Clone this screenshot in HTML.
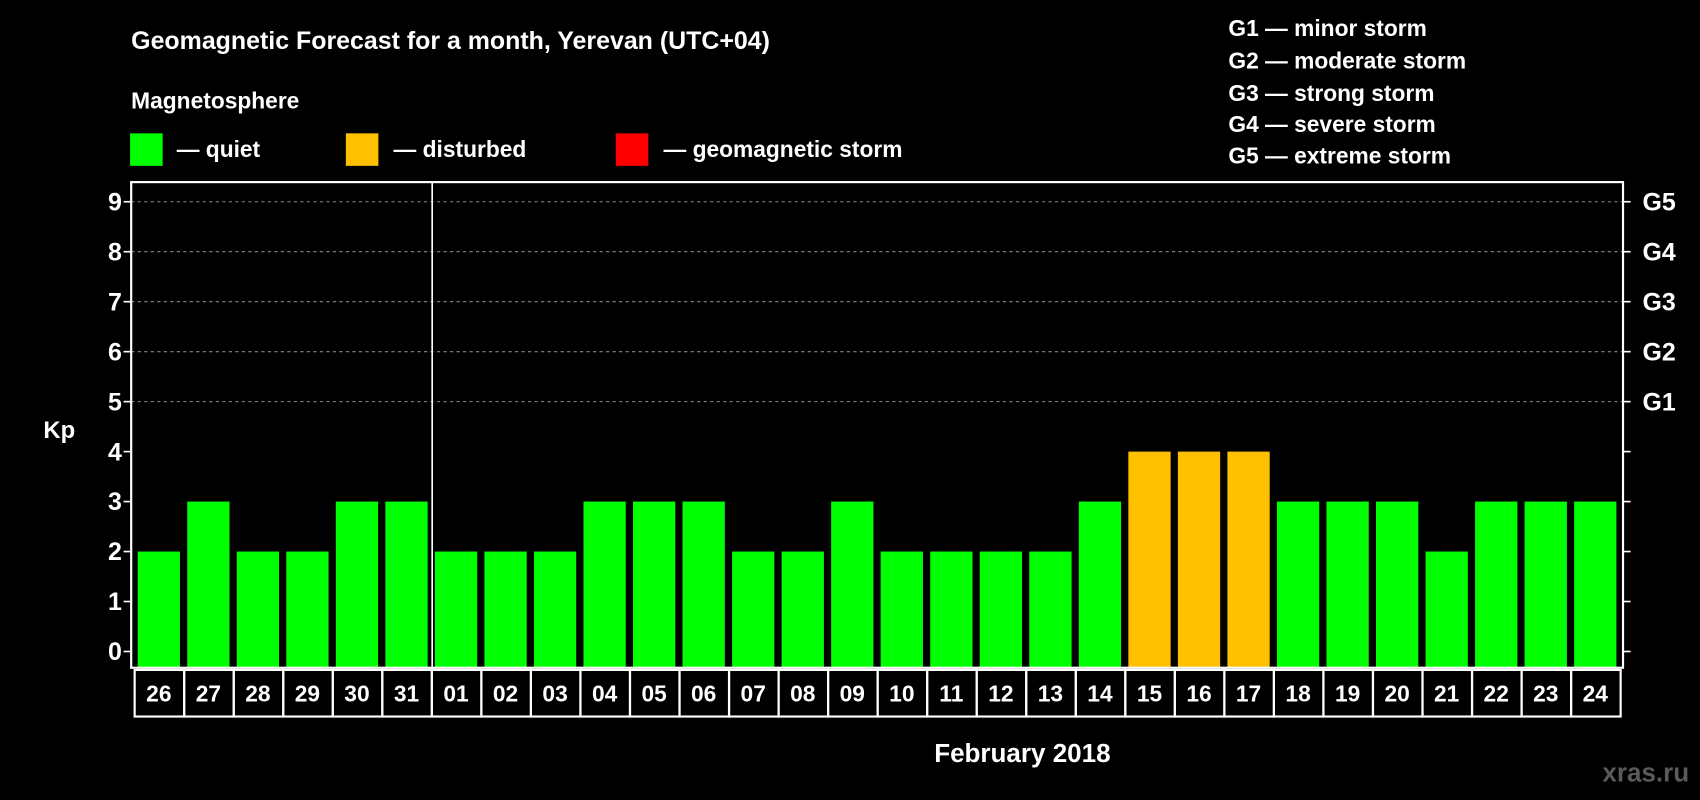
<!DOCTYPE html>
<html><head><meta charset="utf-8"><style>
html,body{margin:0;padding:0;background:#000;}
svg{display:block;}
text{font-family:"Liberation Sans",Arial,sans-serif;font-weight:bold;fill:#fff;}
</style></head><body>
<svg width="1700" height="800" viewBox="0 0 1568 738" preserveAspectRatio="none" xmlns="http://www.w3.org/2000/svg">
<rect width="1568" height="738" fill="#000"/>
<text x="121" y="45" font-size="23">Geomagnetic Forecast for a month, Yerevan (UTC+04)</text>
<text x="121" y="100" font-size="21">Magnetosphere</text>
<g><rect x="120" y="123" width="30" height="30" fill="#00ff00"/><text x="163" y="145" font-size="21">— quiet</text></g>
<g><rect x="319" y="123" width="30" height="30" fill="#ffc000"/><text x="363" y="145" font-size="21">— disturbed</text></g>
<g><rect x="568" y="123" width="30" height="30" fill="#ff0000"/><text x="612" y="145" font-size="21">— geomagnetic storm</text></g>
<g font-size="21">
<text x="1133" y="33">G1 — minor storm</text>
<text x="1133" y="63">G2 — moderate storm</text>
<text x="1133" y="93">G3 — strong storm</text>
<text x="1133" y="122">G4 — severe storm</text>
<text x="1133" y="151">G5 — extreme storm</text>
</g>
<text x="40" y="404" font-size="22">Kp</text>
<g id="plot"></g>
<text x="943" y="703" font-size="24" text-anchor="middle">February 2018</text>
<text x="1558" y="721" font-size="24" text-anchor="end" fill="#5a5a5a" style="fill:#5a5a5a">xras.ru</text>
</svg>
<script>
const days = ["26","27","28","29","30","31","01","02","03","04","05","06","07","08","09","10","11","12","13","14","15","16","17","18","19","20","21","22","23","24","25"].slice(0,30);
const kp = [2,3,2,2,3,3,2,2,2,3,3,3,2,2,3,2,2,2,2,3,4,4,4,3,3,3,2,3,3,3];
const yTicks = [0,1,2,3,4,5,6,7,8,9];
const gLabels = {5:"G1",6:"G2",7:"G3",8:"G4",9:"G5"};
const L=121,R=1497,T=168,B=616, x0=127, pitch=(1493-127+4.6)/30, bw=39;
const y = v => 601 - v*46.1;
const xb = i => x0 + i*pitch;
const NS="http://www.w3.org/2000/svg";
const g=document.getElementById('plot');
function mk(t,a){const e=document.createElementNS(NS,t);for(const k in a)e.setAttribute(k,a[k]);g.appendChild(e);return e;}
yTicks.forEach(v=>{
  if(v>=5){const gl=mk('line',{x1:L,x2:R,y1:y(v),y2:y(v),stroke:'#888','stroke-dasharray':'3,3','stroke-width':1});
    
    }
  const t1=mk('line',{x1:L-7,x2:L,y1:y(v),y2:y(v),stroke:'#fff','stroke-width':1.5});
  
  
  const t2=mk('line',{x1:R,x2:R+7,y1:y(v),y2:y(v),stroke:'#fff','stroke-width':1.5});
  
  
  const tl=mk('text',{x:106,y:y(v)+8,'font-size':23,'text-anchor':'middle'});tl.textContent=v;
  
  
  if(gLabels[v]){const gt=mk('text',{x:1515,y:y(v)+8,'font-size':23});gt.textContent=gLabels[v];
    
    }
});
kp.forEach((v,i)=>{
  const c=v>=5?'#ff0000':(v>=4?'#ffc000':'#00ff00');
  const r=mk('rect',{x:xb(i),y:y(v),width:bw,height:B-y(v),fill:c});
  
  
  const cell=mk('rect',{x:xb(i)-2.8,y:B+2,width:pitch,height:43,fill:'none',stroke:'#fff','stroke-width':2});
  
  
  const t=mk('text',{x:xb(i)+bw/2,y:B+31,'font-size':21,'text-anchor':'middle'});t.textContent=days[i];
  
  
});
const fr=mk('rect',{x:L,y:T,width:R-L,height:B-T,fill:'none',stroke:'#fff','stroke-width':2});


const ml=mk('line',{x1:xb(6)-2.5,x2:xb(6)-2.5,y1:T,y2:B,stroke:'#fff','stroke-width':1.5});


</script>
</body></html>
